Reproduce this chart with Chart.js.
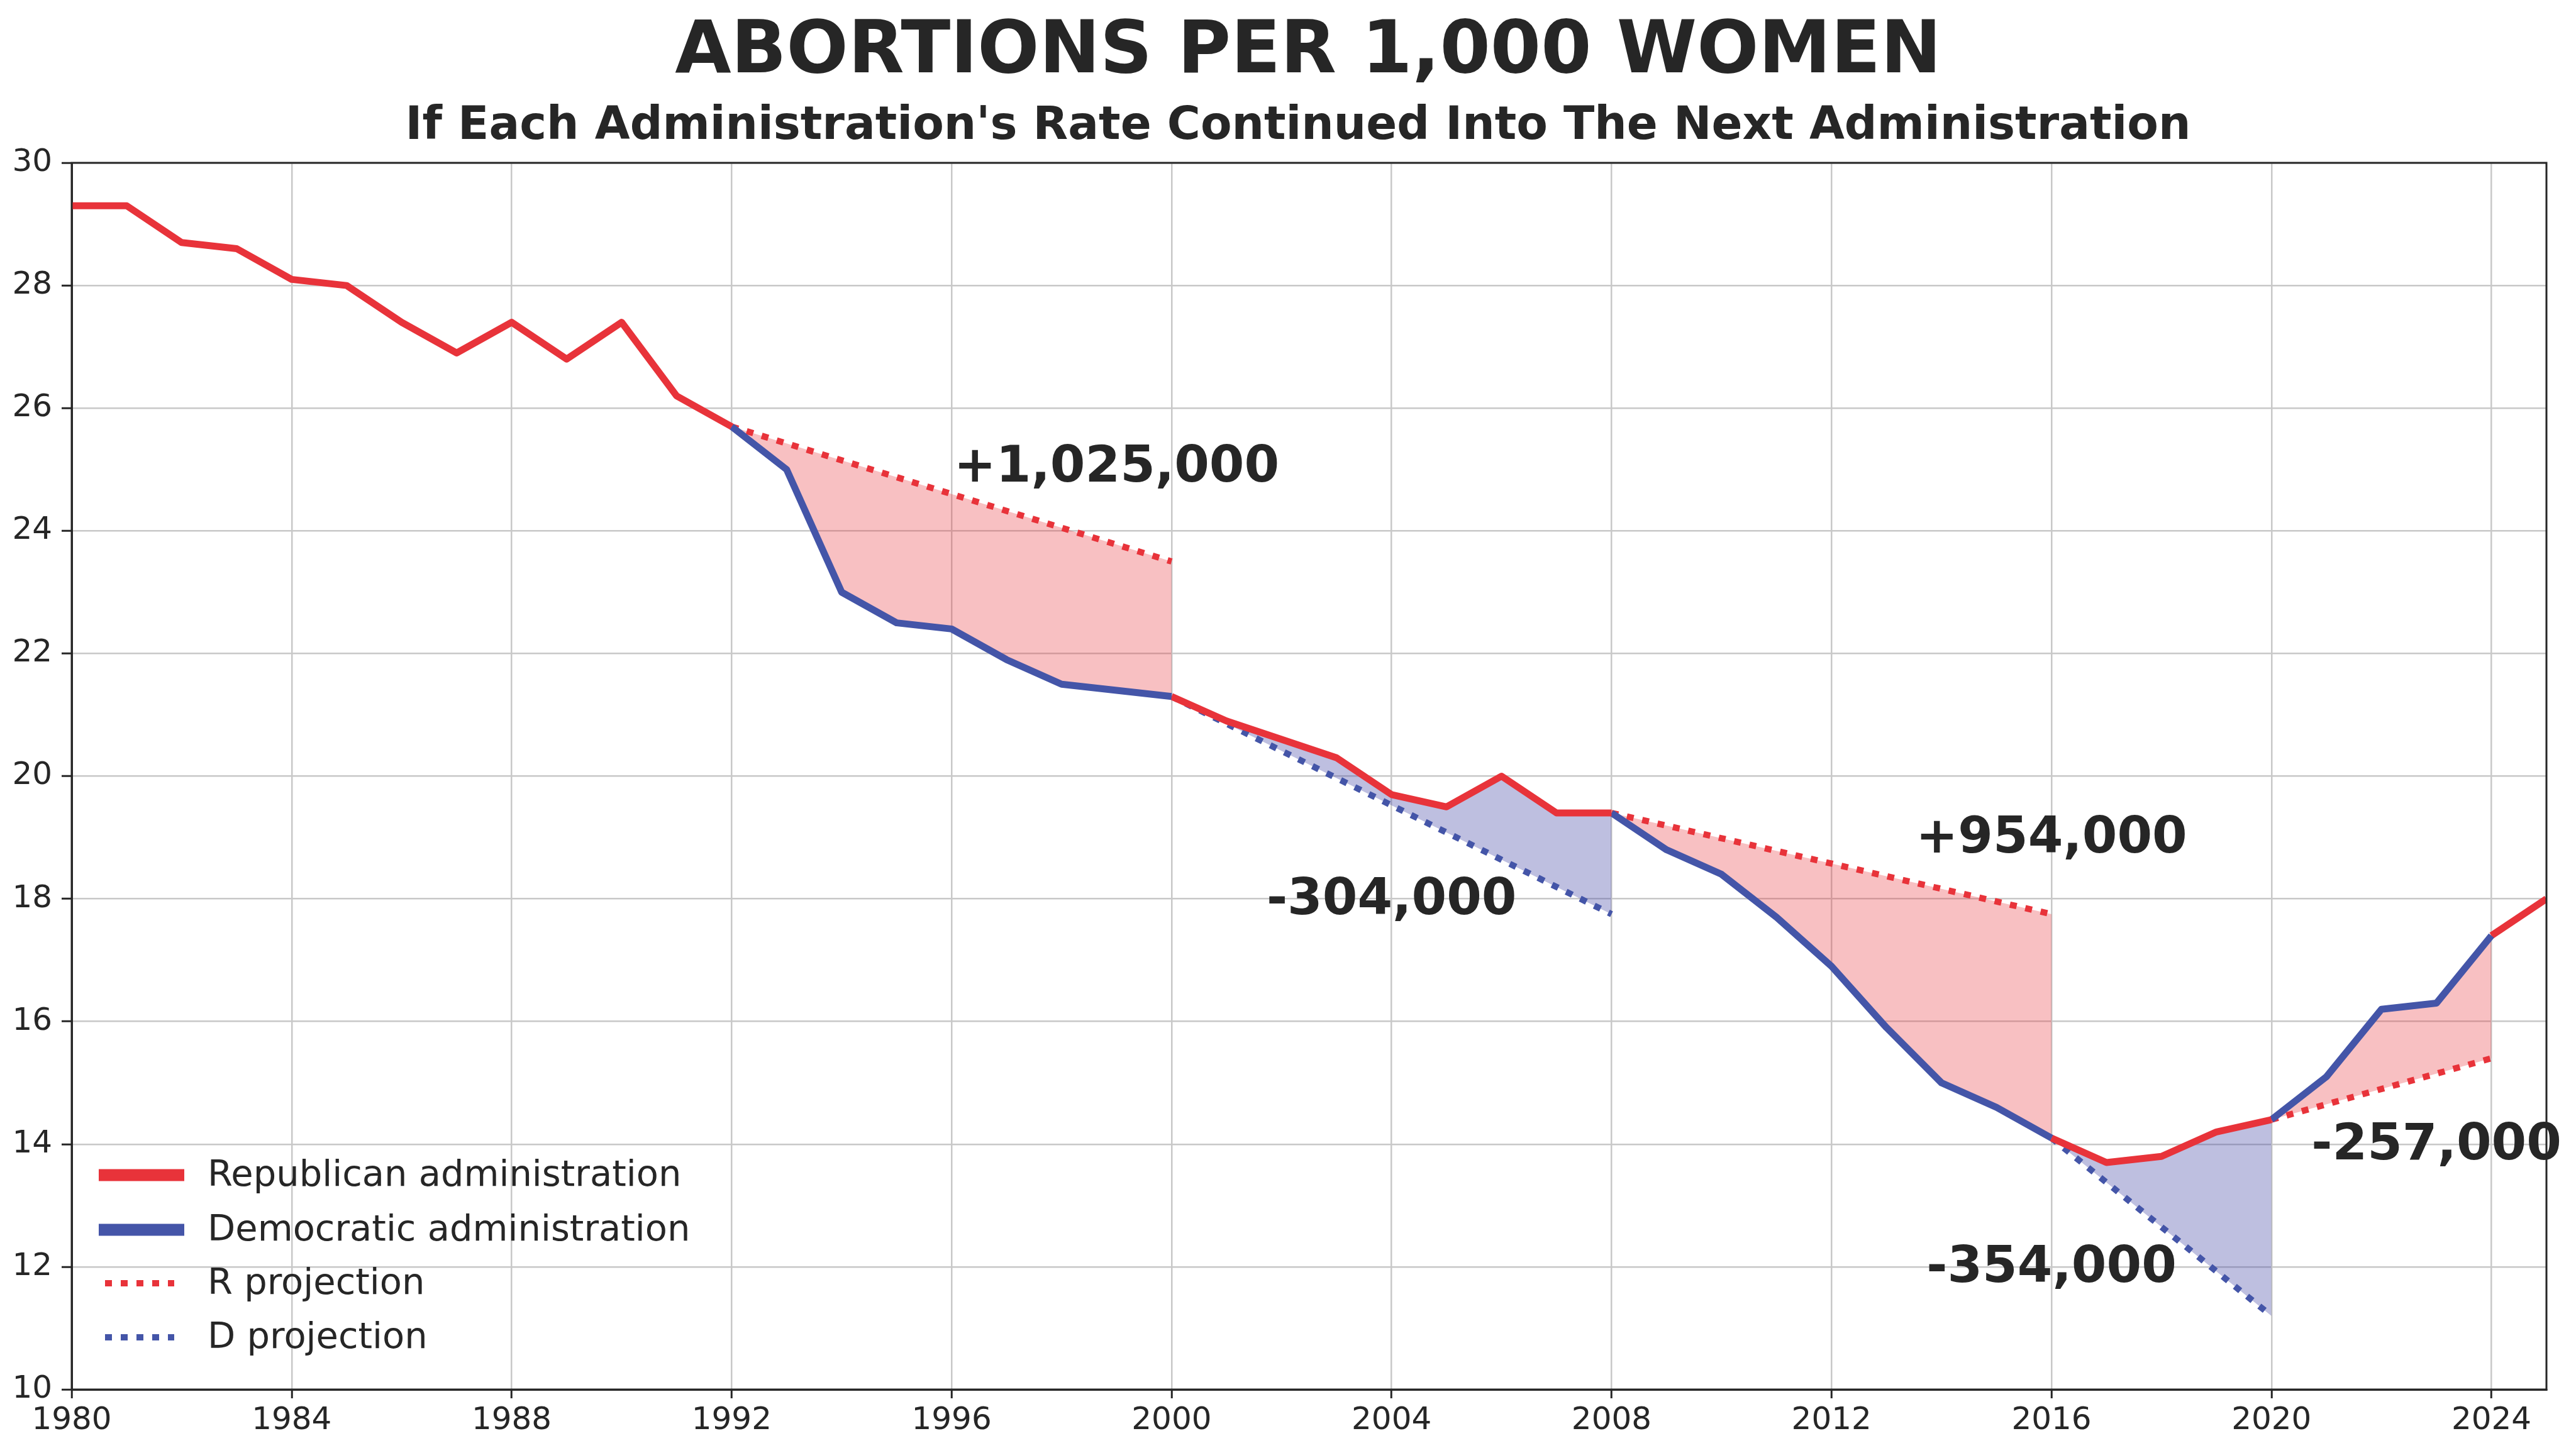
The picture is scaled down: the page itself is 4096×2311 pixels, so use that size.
<!DOCTYPE html>
<html>
<head>
<meta charset="utf-8">
<script src="https://cdn.jsdelivr.net/npm/chart.js@4.4.1/dist/chart.umd.min.js"></script>
<style>
  html, body { margin: 0; padding: 0; background: #fff; }
  canvas { display: block; }
</style>
</head>
<body>
<canvas id="myChart" width="4096" height="2311"></canvas>
<script>
/* data */
var years = [1980, 1981, 1982, 1983, 1984, 1985, 1986, 1987, 1988, 1989,
             1990, 1991, 1992, 1993, 1994, 1995, 1996, 1997, 1998, 1999,
             2000, 2001, 2002, 2003, 2004, 2005, 2006, 2007, 2008, 2009,
             2010, 2011, 2012, 2013, 2014, 2015, 2016, 2017, 2018, 2019,
             2020, 2021, 2022, 2023, 2024, 2025];
var rate = [29.3, 29.3, 28.7, 28.6, 28.1, 28.0, 27.4, 26.9, 27.4, 26.8,
            27.4, 26.2, 25.7, 25.0, 23.0, 22.5, 22.4, 21.9, 21.5, 21.4,
            21.3, 20.9, 20.6, 20.3, 19.7, 19.5, 20.0, 19.4, 19.4, 18.8,
            18.4, 17.7, 16.9, 15.9, 15.0, 14.6, 14.1, 13.7, 13.8, 14.2,
            14.4, 15.1, 16.2, 16.3, 17.4, 18.0];

var adminParty = ['R', 'D', 'R', 'D', 'R', 'D', 'R'];
var adminStart = [1980, 1992, 2000, 2008, 2016, 2020, 2024];
var adminEnd   = [1992, 2000, 2008, 2016, 2020, 2024, 2025];

var projParty   = ['R', 'D', 'R', 'D', 'R'];
var projStart   = [1992, 2000, 2008, 2016, 2020];
var projEnd     = [2000, 2008, 2016, 2020, 2024];
var projEndRate = [23.5, 17.75, 17.75, 11.2, 15.4];

var impactLabels = ['+1,025,000', '-304,000', '+954,000', '-354,000', '-257,000'];

var xTicks = [1980, 1984, 1988, 1992, 1996, 2000, 2004, 2008, 2012, 2016, 2020, 2024];
var yTicks = [10, 12, 14, 16, 18, 20, 22, 24, 26, 28, 30];

var legendLabels = ['Republican administration', 'Democratic administration', 'R projection', 'D projection'];

/* styles */
var partyColor = { R: '#e8333a', D: '#4455a8' };
var partyFill = { R: 'rgba(232, 51, 58, 0.31)', D: 'rgba(69, 72, 166, 0.35)' };
var textColor = '#262626';
var font = 'DejaVu Sans';

// where the impact numbers sit, in data units (centre of the text)
var labelAt = [
    { x: 1999, y: 25.1 },
    { x: 2004, y: 18.05 },
    { x: 2016, y: 19.05 },
    { x: 2016, y: 12.05 },
    { x: 2023, y: 14.05 }
];

function rateAt(yr) {
    return rate[years.indexOf(yr)];
}

var datasets = [];
adminParty.forEach(function (p, i) {
    var pts = [];
    years.forEach(function (yr, j) {
        if (yr >= adminStart[i] && yr <= adminEnd[i]) pts.push({ x: yr, y: rate[j] });
    });
    datasets.push({
        data: pts,
        borderColor: partyColor[p],
        borderWidth: 11,
        borderJoinStyle: 'round',
        borderCapStyle: 'butt',
        pointRadius: 0,
        fill: false,
        order: 0
    });
});
projParty.forEach(function (p, k) {
    datasets.push({
        data: [{ x: projStart[k], y: rateAt(projStart[k]) }, { x: projEnd[k], y: projEndRate[k] }],
        borderColor: partyColor[p],
        borderWidth: 10,
        borderDash: [11, 14],
        borderCapStyle: 'butt',
        backgroundColor: partyFill[p],
        pointRadius: 0,
        fill: k + 1,          // fill against the administration that followed
        order: 1
    });
});

/* titles, frame, impact labels and legend */
var extras = {
    id: 'extras',
    afterDatasetsDraw: function (chart) {
        var ctx = chart.ctx;
        var a = chart.chartArea;
        var xs = chart.scales.x, ys = chart.scales.y;

        ctx.save();
        ctx.fillStyle = textColor;
        ctx.textAlign = 'center';
        ctx.textBaseline = 'alphabetic';
        ctx.font = 'bold 115.5px "' + font + '"';
        ctx.fillText('ABORTIONS PER 1,000 WOMEN', 2080, 115);
        ctx.font = 'bold 72.3px "' + font + '"';
        ctx.fillText("If Each Administration's Rate Continued Into The Next Administration", 2064, 221);

        // impact numbers
        ctx.font = 'bold 80px "' + font + '"';
        impactLabels.forEach(function (t, i) {
            ctx.fillText(t, xs.getPixelForValue(labelAt[i].x), ys.getPixelForValue(labelAt[i].y) + 29);
        });

        // frame
        ctx.strokeStyle = textColor;
        ctx.lineWidth = 3;
        ctx.strokeRect(a.left, a.top, a.right - a.left, a.bottom - a.top);

        // legend
        var rows = [a.bottom - 341, a.bottom - 254, a.bottom - 169, a.bottom - 83];
        var kinds = [['R', false], ['D', false], ['R', true], ['D', true]];
        ctx.textAlign = 'left';
        ctx.textBaseline = 'middle';
        ctx.font = '57.5px "' + font + '"';
        legendLabels.forEach(function (t, i) {
            var y = rows[i];
            ctx.strokeStyle = partyColor[kinds[i][0]];
            ctx.lineCap = 'butt';
            if (kinds[i][1]) {
                ctx.lineWidth = 10;
                ctx.setLineDash([11, 14]);
                ctx.beginPath();
                ctx.moveTo(a.left + 53, y);
                ctx.lineTo(a.left + 163, y);
                ctx.stroke();
            } else {
                ctx.lineWidth = 19;
                ctx.setLineDash([]);
                ctx.beginPath();
                ctx.moveTo(a.left + 43, y);
                ctx.lineTo(a.left + 179, y);
                ctx.stroke();
            }
            ctx.setLineDash([]);
            ctx.fillStyle = textColor;
            ctx.fillText(t, a.left + 216, y + 2);
        });
        ctx.restore();
    }
};

var ctx = document.getElementById('myChart').getContext('2d');
var myChart = new Chart(ctx, {
    type: 'line',
    data: { datasets: datasets },
    options: {
        responsive: false,
        devicePixelRatio: 1,
        animation: false,
        layout: { padding: { top: 259, right: 47, bottom: 0, left: 0 } },
        plugins: {
            legend: { display: false },
            tooltip: { enabled: false },
            title: { display: false }
        },
        elements: { line: { tension: 0 } },
        scales: {
            x: {
                type: 'linear',
                min: 1980,
                max: 2025,
                afterBuildTicks: function (s) {
                    s.ticks = xTicks.map(function (v) { return { value: v }; });
                },
                afterFit: function (s) { s.height = 101; },
                ticks: {
                    autoSkip: false,
                    maxRotation: 0,
                    padding: 6,
                    color: textColor,
                    font: { family: font, size: 50 },
                    callback: function (v) { return String(v); }
                },
                grid: { color: '#c8c8c8', lineWidth: 2.5, tickLength: 14, tickColor: textColor, tickWidth: 3 },
                border: { color: textColor, width: 3 }
            },
            y: {
                min: 10,
                max: 30,
                afterBuildTicks: function (s) {
                    s.ticks = yTicks.map(function (v) { return { value: v }; });
                },
                afterFit: function (s) { s.width = 114; },
                ticks: {
                    padding: 15,
                    color: textColor,
                    font: { family: font, size: 50 },
                    callback: function (v) { return String(v); }
                },
                grid: { color: '#c8c8c8', lineWidth: 2.5, tickLength: 16, tickColor: textColor, tickWidth: 3 },
                border: { color: textColor, width: 3 }
            }
        }
    },
    plugins: [extras]
});
</script>
</body>
</html>
